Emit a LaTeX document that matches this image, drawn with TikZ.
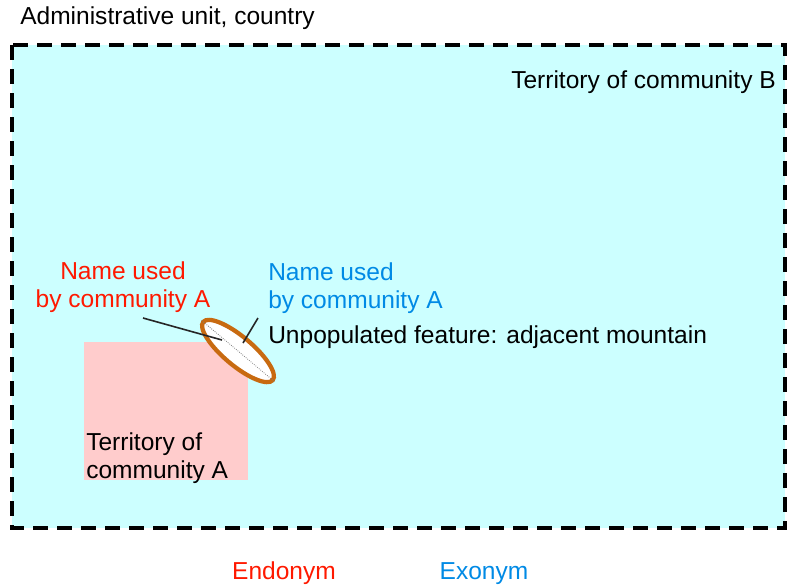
\documentclass[tikz,border=0pt]{standalone}
\usepackage{fontspec}
\setmainfont{Liberation Sans}
\usetikzlibrary{shapes.geometric}
\begin{document}
\begin{tikzpicture}[x=0.75pt,y=-0.75pt,
  lbl/.style={inner sep=0pt, font=\fontsize{18.4}{21}\selectfont, align=left},
  endo/.style={text=red!80!orange},
  exo/.style={text=blue!40!cyan!90!black},
  leader/.style={draw=black!85, line width=1.2pt}]
\definecolor{areaB}{HTML}{CCFFFF}
\definecolor{areaA}{HTML}{FFCCCC}
\definecolor{rim}{HTML}{C86A10}
\useasboundingbox (0,0) rectangle (792,587);
% territory of community B inside the administrative boundary
\fill[areaB] (12,45) rectangle (785,528);
\draw[line width=2.6pt, dash pattern=on 11pt off 7pt] (12,45) rectangle (785,528);
% territory of community A
\fill[areaA] (84,342) rectangle (248,480);
% the mountain
\node[draw=rim, line width=3.2pt, fill=white, ellipse, minimum width=68pt, minimum height=21.5pt, rotate=-40, inner sep=0pt] (mtn) at (238,351) {};
\draw[gray, densely dotted, line width=0.6pt] (mtn.west) -- (mtn.east);
\node[lbl, anchor=west] (admin) at (20,18) {Administrative unit, country};
\node[lbl, anchor=east] (terrB) at (776,82) {Territory of community B};
\node[lbl, endo, align=center] (nameA) at (123,287) {Name used\\by community A};
\node[lbl, exo, anchor=west] (nameB) at (268,288) {Name used\\by community A};
\node[lbl, anchor=west] (feat) at (268,337) {Unpopulated feature: adjacent mountain};
\node[lbl, anchor=west] (terrA) at (86,458) {Territory of\\community A};
\node[lbl, endo] (endo) at (284,573) {Endonym};
\node[lbl, exo] (exo) at (484,574) {Exonym};
\coordinate (endoEnd) at (222,340);
\coordinate (exoEnd) at (243,343);
\draw[leader] (143,318) -- (endoEnd);
\draw[leader] (258,318) -- (exoEnd);
\end{tikzpicture}
\end{document}
